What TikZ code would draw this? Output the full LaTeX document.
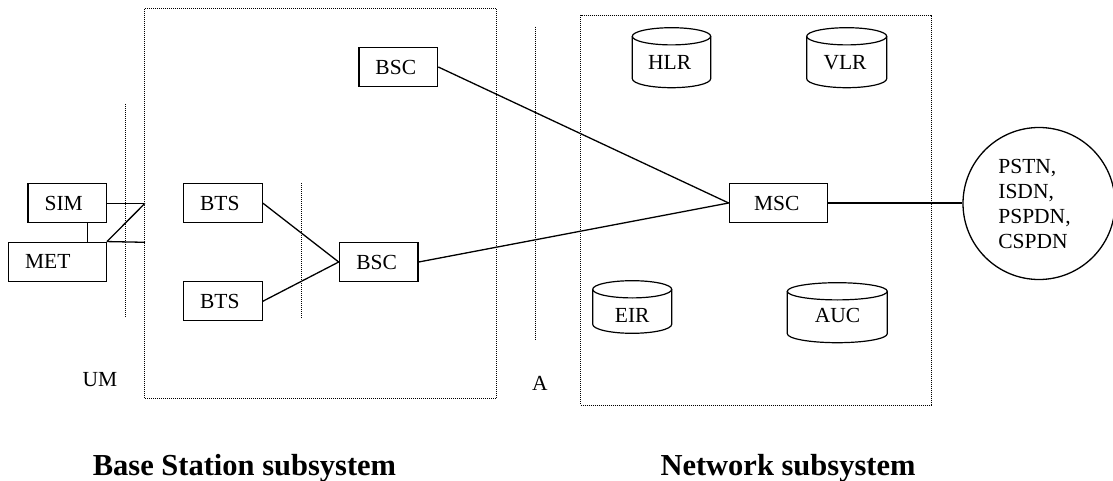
\documentclass[tikz,border=0pt]{standalone}
\usepackage{fontspec}
\setmainfont{Liberation Serif}
\newcommand\dbcyl[8]{% #1 name, #2 x1, #3 y1, #4 x2, #5 y2, #6 text x, #7 text y, #8 label
  \draw[cyl] ({(#2+#4)/2}, {-(#3)-8.6}) ellipse [x radius={(#4-#2)/2*1pt}, y radius=8.6pt];
  \draw[cyl] (#2, {-(#3)-8.6}) -- (#2, {-(#5)+9}) arc [start angle=180, end angle=360, x radius={(#4-#2)/2*1pt}, y radius=9pt] -- (#4, {-(#3)-8.6});
  \node[txt] (#1) at (#6, {-(#7)}) {#8};
}
\begin{document}
\begin{tikzpicture}[x=1pt,y=1pt,
  box/.style={draw, line width=1.3pt, minimum height=39pt, inner sep=0pt, font=\fontsize{21.5}{25}\selectfont},
  txt/.style={inner sep=0pt, font=\fontsize{21.5}{25}\selectfont},
  ttl/.style={inner sep=0pt, font=\fontsize{30.5}{36}\selectfont\bfseries},
  link/.style={line width=1.3pt},
  dots/.style={line width=0.9pt, dash pattern=on 1pt off 1pt},
  cyl/.style={line width=1.2pt}]
\useasboundingbox (0,0) rectangle (1113,-481);

% dotted subsystem frames and interface lines
\draw[dots] (144.7,-8.7) rectangle (496.7,-398.3);
\draw[dots] (580.7,-15) rectangle (931,-405);
\draw[dots] (125.5,-104) -- (125.5,-317);
\draw[dots] (301,-183.3) -- (301,-317.7);
\draw[dots] (535,-26.7) -- (535,-340.7);

% boxes
\node[box, minimum width=78.3pt] (sim) at (67.2,-203.3) {SIM\hspace*{7pt}};
\node[box, minimum width=98pt] (met) at (57.3,-261.7) {MET\hspace*{19pt}};
\node[box, minimum width=79pt] (bts1) at (222.8,-203.2) {BTS\hspace*{6pt}};
\node[box, minimum width=79pt] (bts2) at (222.8,-301.2) {BTS\hspace*{6pt}};
\node[box, minimum width=78.7pt] (bsc1) at (398.3,-67) {BSC\hspace*{5pt}};
\node[box, minimum width=78.7pt] (bsc2) at (378.7,-262) {BSC\hspace*{4pt}};
\node[box, minimum width=98pt] (msc) at (778.3,-203) {MSC\hspace*{3pt}};

% databases
\dbcyl{hlr}{632.3}{27.7}{710.7}{87.7}{669.7}{62.2}{HLR}
\dbcyl{vlr}{806.7}{27.7}{886.7}{87.7}{845}{62.2}{VLR}
\dbcyl{eir}{592.7}{280.7}{671.7}{333.3}{632.2}{315.8}{EIR}
\dbcyl{auc}{787.3}{282.7}{887.3}{342.7}{837.5}{315.3}{AUC}

% external networks
\node[draw, circle, line width=1.3pt, minimum size=152pt, inner sep=0pt] (pstn) at (1039,-203.5) {};
\node[txt, align=left] (pstnt) at (1034.5,-203.7) {PSTN,\\ISDN,\\PSPDN,\\CSPDN};

% connection points on the Um interface
\coordinate (um1) at (145,-203.3);
\coordinate (um2) at (145,-242.3);

% connectors
\draw[link] (sim.east) -- (um1);
\draw[link] (met.north east) -- (um2);
\draw[link] (met.north east) -- (um1);
\draw[link] ([xshift=-19.6pt]sim.south east) -- ([xshift=-19.6pt]sim.south east |- met.north);
\draw[link] (bts1.east) -- (bsc2.west);
\draw[link] (bts2.east) -- (bsc2.west);
\draw[link] (bsc1.east) -- (msc.west);
\draw[link] (bsc2.east) -- (msc.west);
\draw[link] (msc.east) -- (msc.east -| pstn.west);

% labels
\node[txt, anchor=base] (um) at (100,-386.7) {UM};
\node[txt, anchor=base] (a) at (540,-390.7) {A};
\node[ttl, anchor=base] (bss) at (244.5,-475.7) {Base Station subsystem};
\node[ttl, anchor=base] (nss) at (788,-475.7) {Network subsystem};
\end{tikzpicture}
\end{document}
